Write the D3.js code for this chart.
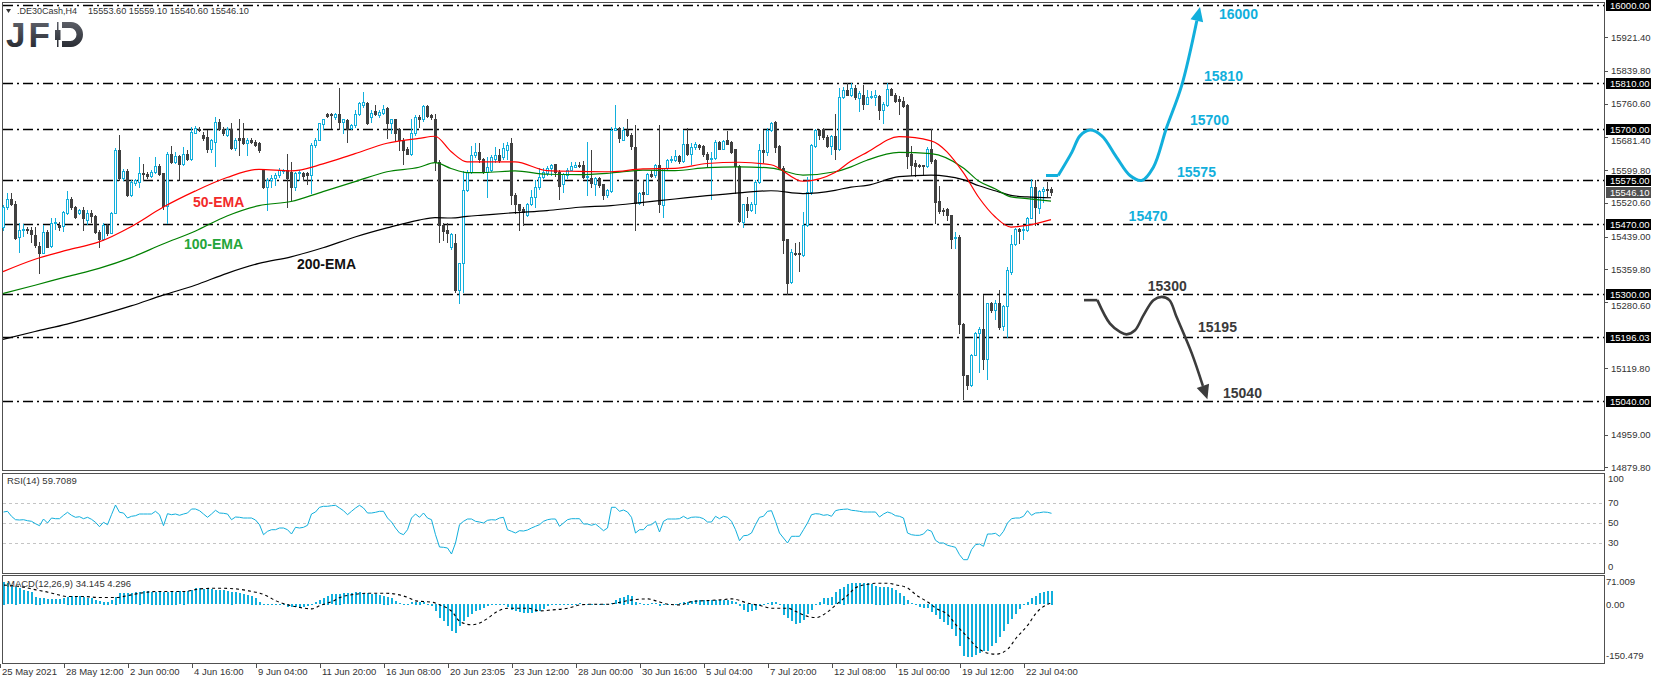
<!DOCTYPE html>
<html>
<head>
<meta charset="utf-8">
<script src="https://cdnjs.cloudflare.com/ajax/libs/d3/7.8.5/d3.min.js"></script>
<style>
  body { margin: 0; background: #fff; }
  svg { display: block; font-family: "Liberation Sans", Arial, sans-serif; }
</style>
</head>
<body>
<div id="chart"></div>
<script>
// DE30Cash H4, bar 0 = 25 May 2021 00:00
var opens = [
 15461,15510,15529,15519,15439,15455,15457,15456,15443,15416, // 0
 15400,15451,15416,15471,15467,15464,15497,15531,15511,15495,
 15503,15479,15497,15488,15451,15434,15467,15448,15497,15649,
 15580,15598,15539,15568,15572,15592,15590,15586,15595,15611,
 15594,15513,15640,15620,15634,15615,15640,15628,15691,15699,
 15685,15681,15650,15669,15716,15699,15685,15699,15653,15677, // 50
 15679,15666,15674,15669,15665,15600,15558,15576,15582,15588,
 15598,15600,15596,15560,15592,15592,15592,15588,15661,15674,
 15712,15736,15736,15728,15737,15717,15721,15701,15709,15737,
 15758,15763,15728,15742,15733,15739,15750,15715,15723,15699,
 15673,15650,15640,15689,15729,15723,15755,15733,15723,15620, // 100
 15467,15455,15413,15424,15309,15374,15552,15596,15636,15645,
 15628,15596,15600,15628,15636,15632,15649,15665,15539,15517,
 15507,15491,15519,15535,15558,15584,15593,15606,15614,15596,
 15566,15588,15601,15608,15612,15612,15584,15582,15567,15582,
 15566,15539,15550,15697,15703,15674,15698,15685,15655,15521, // 150
 15547,15543,15590,15588,15612,15515,15604,15624,15624,15634,
 15622,15664,15639,15655,15660,15658,15640,15628,15630,15668,
 15652,15673,15668,15650,15609,15475,15517,15503,15519,15572,
 15648,15644,15697,15717,15658,15606,15432,15329,15399,15399,
 15394,15466,15546,15659,15697,15699,15680,15659,15683,15651, // 200
 15777,15794,15783,15799,15775,15783,15761,15777,15777,15780,
 15745,15757,15796,15783,15772,15767,15757,15638,15618,15612,
 15612,15610,15652,15624,15525,15503,15505,15491,15436,15439,
 15228,15103,15080,15153,15206,15214,15142,15277,15260,15277,
 15222,15272,15352,15420,15457,15454,15454,15484,15559,15508, // 250
 15549,15554,15553.6
];
var highs = [
 15515,15544,15544,15525,15473,15469,15463,15461,15463,15426,
 15467,15455,15483,15483,15475,15501,15550,15535,15513,15506,
 15510,15503,15503,15492,15455,15471,15470,15499,15653,15685,
 15602,15602,15576,15578,15632,15615,15595,15600,15632,15615,
 15594,15645,15658,15644,15636,15657,15648,15705,15707,15705,
 15693,15697,15676,15729,15723,15705,15705,15715,15677,15725,
 15713,15677,15677,15673,15669,15602,15580,15588,15592,15604,
 15603,15640,15620,15596,15600,15596,15596,15665,15677,15715,
 15725,15738,15739,15739,15800,15725,15725,15712,15745,15766,
 15790,15766,15745,15758,15745,15758,15752,15725,15725,15701,
 15677,15657,15723,15733,15733,15758,15758,15736,15737,15624,
 15471,15471,15448,15445,15376,15598,15600,15658,15665,15665,
 15630,15632,15636,15655,15650,15665,15669,15677,15544,15518,
 15511,15521,15552,15576,15606,15604,15609,15616,15614,15600,
 15593,15606,15620,15620,15620,15622,15668,15648,15584,15584,
 15567,15555,15705,15757,15705,15705,15725,15689,15709,15547,
 15576,15592,15600,15616,15709,15606,15626,15634,15648,15636,
 15697,15701,15666,15668,15663,15660,15644,15644,15673,15671,
 15673,15695,15671,15652,15612,15519,15535,15523,15576,15664,
 15698,15701,15717,15719,15660,15609,15434,15410,15424,15426,
 15499,15584,15664,15699,15699,15701,15685,15686,15737,15799,
 15802,15812,15812,15806,15791,15806,15794,15791,15794,15782,
 15765,15810,15798,15786,15780,15777,15759,15659,15624,15614,
 15613,15656,15699,15626,15562,15509,15508,15492,15450,15442,
 15230,15104,15155,15209,15220,15298,15279,15281,15285,15309,
 15274,15365,15442,15460,15460,15468,15487,15578,15575,15551,
 15559,15570,15559.1
];
var lows = [
 15455,15507,15516,15432,15402,15440,15447,15426,15414,15350,
 15398,15413,15414,15458,15455,15453,15493,15507,15483,15493,
 15455,15469,15475,15447,15413,15430,15443,15447,15495,15577,
 15576,15537,15537,15565,15560,15576,15582,15584,15592,15588,
 15507,15472,15618,15618,15577,15612,15624,15624,15689,15695,
 15673,15645,15645,15610,15697,15686,15683,15650,15649,15636,
 15664,15636,15666,15658,15645,15556,15503,15560,15564,15584,
 15594,15511,15527,15553,15576,15576,15566,15545,15657,15673,
 15699,15729,15701,15725,15699,15691,15669,15699,15705,15733,
 15754,15712,15717,15733,15729,15737,15677,15689,15673,15649,
 15615,15639,15636,15685,15705,15720,15729,15725,15600,15426,
 15430,15426,15410,15305,15277,15305,15550,15594,15632,15620,
 15592,15535,15598,15620,15620,15628,15628,15519,15495,15455,
 15467,15489,15515,15511,15555,15580,15588,15588,15585,15531,
 15547,15580,15600,15607,15607,15582,15539,15559,15539,15559,
 15529,15535,15547,15697,15669,15673,15682,15652,15454,15519,
 15515,15542,15584,15584,15499,15487,15601,15620,15622,15618,
 15620,15636,15616,15652,15652,15634,15609,15531,15628,15650,
 15650,15663,15642,15545,15475,15462,15487,15501,15495,15569,
 15620,15636,15695,15644,15604,15398,15301,15327,15394,15355,
 15392,15465,15543,15656,15675,15675,15656,15640,15626,15648,
 15775,15782,15780,15773,15743,15749,15759,15775,15757,15723,
 15713,15756,15782,15765,15737,15753,15604,15588,15586,15608,
 15588,15608,15618,15473,15497,15492,15479,15411,15411,15206,
 15046,15069,15077,15151,15111,15117,15093,15256,15239,15216,
 15212,15196,15349,15418,15424,15432,15452,15483,15468,15497,
 15523,15538,15540.6
];
var closes = [
 15511,15529,15519,15436,15455,15457,15455,15445,15418,15400,
 15449,15414,15471,15475,15461,15498,15531,15511,15487,15503,
 15483,15497,15490,15451,15433,15467,15447,15497,15649,15580,
 15598,15539,15571,15576,15592,15590,15586,15596,15611,15590,
 15513,15640,15620,15634,15615,15640,15628,15693,15701,15697,
 15677,15650,15673,15716,15699,15689,15699,15653,15674,15673,
 15666,15674,15669,15661,15649,15558,15576,15582,15588,15600,
 15600,15582,15560,15594,15596,15586,15588,15661,15674,15713,
 15723,15731,15733,15737,15717,15723,15699,15709,15737,15762,
 15766,15713,15739,15736,15741,15747,15713,15723,15689,15673,
 15649,15640,15689,15729,15723,15755,15731,15728,15620,15467,
 15453,15447,15445,15309,15374,15552,15596,15636,15645,15628,
 15596,15607,15632,15636,15624,15653,15661,15539,15519,15503,
 15499,15519,15534,15559,15584,15596,15606,15612,15596,15561,
 15590,15601,15609,15612,15609,15584,15586,15569,15582,15563,
 15539,15551,15698,15703,15677,15698,15685,15658,15521,15545,
 15542,15590,15585,15612,15517,15604,15624,15626,15634,15622,
 15664,15639,15656,15664,15656,15639,15628,15630,15668,15652,
 15671,15664,15644,15609,15477,15517,15503,15519,15572,15648,
 15644,15698,15715,15656,15606,15430,15327,15402,15397,15397,
 15466,15546,15662,15697,15685,15681,15659,15683,15651,15777,
 15794,15783,15799,15777,15786,15759,15777,15780,15782,15745,
 15759,15796,15783,15767,15767,15756,15634,15612,15610,15610,
 15610,15651,15622,15523,15500,15500,15491,15434,15439,15226,
 15104,15080,15153,15206,15214,15142,15277,15260,15277,15220,
 15272,15357,15420,15457,15453,15458,15484,15559,15511,15549,
 15554,15551,15546.1
];

// moving averages, read at these bars
var emaBars = [0,8,16,24,32,40,48,56,64,72,80,88,96,104,108,112,116,120,128,136,144,152,160,168,176,184,192,200,208,212,216,224,232,240,244,248,252,256,262];
var ema50  = [15354,15384,15406,15426,15463,15510,15549,15582,15602,15598,15615,15640,15665,15677,15682,15645,15620,15620,15620,15599,15597,15596,15603,15604,15616,15619,15613,15573,15594,15622,15643,15681,15671,15595,15533,15487,15462,15466,15480];
var ema100 = [15301,15321,15342,15362,15388,15421,15452,15489,15514,15524,15548,15572,15596,15607,15618,15604,15594,15594,15598,15590,15589,15593,15600,15599,15606,15608,15605,15588,15596,15608,15624,15643,15640,15606,15573,15555,15535,15531,15525];
var ema200 = [15190,15209,15227,15248,15271,15297,15321,15350,15374,15390,15412,15438,15460,15479,15485,15484,15488,15491,15497,15502,15510,15514,15522,15530,15538,15545,15550,15543,15551,15559,15563,15584,15588,15577,15562,15550,15539,15535,15533];

var rsi = [
 61.0,61.7,56.7,53.3,53.0,53.3,52.3,51.7,49.3,47.3,
 54.0,50.0,55.0,54.3,54.3,57.7,60.7,57.7,55.7,56.3,
 54.3,55.7,53.7,50.7,46.3,50.7,48.3,58.3,68.0,60.7,
 60.0,55.0,56.7,57.3,59.0,59.0,59.0,59.0,61.7,58.3,
 47.3,59.3,58.3,59.0,57.7,59.0,60.0,64.0,64.0,62.3,
 59.0,55.7,59.0,62.7,60.0,59.7,59.0,53.3,56.0,55.7,
 55.0,55.0,55.0,53.0,48.3,38.3,41.7,43.3,43.3,45.0,
 45.0,43.3,39.0,45.7,45.0,45.7,47.7,59.0,61.0,65.7,
 66.7,66.7,67.3,67.7,65.0,62.3,58.3,61.7,65.0,67.7,
 65.0,60.0,60.0,60.7,61.7,61.7,55.0,51.0,45.0,40.0,
 38.3,43.3,55.0,59.0,55.7,60.0,55.0,53.3,38.3,26.0,
 25.7,25.0,19.0,30.0,48.3,51.7,54.0,54.0,51.7,51.0,
 50.0,52.7,53.3,53.0,55.0,55.7,43.3,41.7,40.0,42.3,
 42.0,43.0,45.0,46.7,48.3,51.7,53.3,54.0,54.0,46.7,
 50.0,53.3,54.3,54.3,54.3,49.0,49.0,47.7,49.0,45.7,
 42.3,45.0,65.7,65.7,61.7,63.0,61.0,55.7,40.0,43.3,
 43.3,47.7,48.3,51.7,41.0,51.7,54.0,54.0,54.0,54.3,
 56.7,54.3,55.7,56.0,55.7,54.3,51.0,51.0,56.7,54.3,
 56.7,55.7,51.7,43.3,32.3,37.3,37.7,40.0,48.3,55.7,
 56.7,61.7,62.3,51.7,40.0,35.0,30.0,36.7,36.7,36.7,
 43.3,50.0,58.3,59.3,59.0,57.7,58.3,56.7,62.3,63.3,
 63.7,64.0,62.7,62.3,61.7,61.0,61.0,61.0,61.0,56.0,
 59.0,61.0,59.7,57.3,56.7,55.0,40.0,38.3,37.7,37.7,
 39.0,43.3,41.7,32.7,30.0,30.0,27.7,26.7,25.7,18.3,
 13.3,13.3,23.3,28.3,29.0,26.7,39.0,39.0,39.7,36.7,
 41.7,50.0,54.3,55.0,55.0,56.7,62.3,57.7,60.0,60.3,
 61.0,60.7,59.7
];

var macdHist = [
 57.1,52.9,48.7,44.5,40.3,36.1,33.6,30.2,19.3,16.8,
 15.1,13.4,13.4,13.4,13.4,15.1,19.3,21.8,21.8,21.8,
 19.3,16.8,15.1,10.9,8.4,6.7,6.7,10.9,19.3,27.7,
 27.7,27.7,27.7,30.2,31.9,33.6,33.6,31.9,31.9,31.9,
 31.9,31.9,31.9,31.9,33.6,31.9,33.6,36.1,40.3,40.3,
 38.6,38.6,38.6,36.1,36.1,36.1,33.6,31.9,30.2,27.7,
 25.2,23.5,21.8,16.8,6.7,0,1.7,0.8,0.8,1.7,
 -1.7,-8.4,-8.4,-8.4,-10.1,-8.4,-5.9,0,5.0,10.9,
 16.8,21.8,25.2,26.8,26.8,27.7,27.7,27.7,30.2,30.2,
 27.7,27.7,25.2,25.2,23.5,21.8,19.3,15.1,8.4,2.5,
 0,1.0,5.0,6.7,6.7,5.0,0,-5.9,-18.5,-35.2,
 -43.6,-56.2,-68.8,-73.0,-56.2,-43.6,-33.6,-25.2,-18.5,-14.3,
 -10.1,-5.9,-1.7,1.0,1.0,-1.7,-8.4,-14.3,-16.8,-20.1,
 -21.5,-22.7,-22.7,-20.1,-16.8,-11.7,-5.9,-1.7,0.3,0.8,
 0.8,0.8,0.8,1.7,3.4,0.8,0.3,-0.3,-0.3,0.3,
 -1.7,-1.7,2.5,10.9,15.1,19.3,23.5,21.8,6.7,2.5,
 0.3,0.3,2.5,2.5,-4.2,-0.3,0.3,0.3,0.8,2.5,
 5.0,6.7,8.4,10.1,11.7,11.7,11.7,11.7,11.7,11.7,
 11.7,11.7,8.4,5.0,-5.9,-14.3,-20.1,-18.5,-14.3,-5.9,
 -1.7,2.5,6.7,5.0,-1.7,-26.8,-35.2,-43.6,-50.3,-47.8,
 -39.4,-25.2,-14.3,-1.7,6.7,15.1,16.8,19.3,30.2,38.6,
 44.5,50.3,52.9,52.9,52.9,52.9,52.9,50.3,47.0,44.5,
 44.5,44.5,40.3,36.1,27.7,21.8,10.9,2.5,-1.7,-8.4,
 -10.1,-10.1,-20.1,-28.5,-36.9,-45.3,-52.0,-62.1,-81.4,-106.6,
 -131.7,-134.2,-134.2,-127.5,-123.3,-117.5,-119.1,-106.6,-98.2,-83.9,
 -67.1,-50.3,-36.9,-25.2,-11.7,0.3,6.7,15.1,21.8,27.7,
 30.2,32.0,34.1
];
var signalBars = [0,4,8,11,13,16,20,24,28,31,34,38,41,45,49,53,58,62,64,66,68,71,74,77,79,82,84,88,91,95,98,101,103,107,109,112,114,117,118,121,123,126,129,131,134,137,141,144,147,151,154,157,161,163,166,169,172,176,179,182,186,189,192,196,198,201,203,206,208,211,213,216,218,221,223,226,228,231,233,236,238,241,243,246,248,251,253,256,258,262];
var signalVals = [48,44.5,36.1,30.2,25.2,19.3,19.3,16.8,16.8,21.8,27.7,31.9,31.9,31.9,38.6,40.3,38.6,31.9,27.7,19.3,8.4,-1.7,-8.4,-11.7,-3.4,6.7,16.8,25.2,27.7,27.7,25.2,16.8,8.4,5.0,-1.7,-18.5,-43.6,-52.0,-50.3,-35.2,-20.1,-10.1,-10.1,-10.1,-16.8,-14.3,-10.1,-1.7,0,0,5.0,10.9,13.4,8.4,0,-1.7,6.7,9.2,10.9,13.4,2.5,-3.4,-10.1,-10.1,-18.5,-31.0,-33.6,-18.5,-1.7,23.5,42.0,50.3,52.9,52.9,48.7,40.3,23.5,5.0,-10.1,-26.8,-52.0,-83.9,-106.6,-123.3,-125.8,-112.4,-85.6,-52,-22.7,4.3];

var dateBars = [0,16,32,48,64,80,96,112,128,144,160,176,192,208,224,240,256];
var dateLabels = ["25 May 2021","28 May 12:00","2 Jun 00:00","4 Jun 16:00","9 Jun 04:00","11 Jun 20:00","16 Jun 08:00","20 Jun 23:05","23 Jun 12:00","28 Jun 00:00","30 Jun 16:00","5 Jul 04:00","7 Jul 20:00","12 Jul 08:00","15 Jul 00:00","19 Jul 12:00","22 Jul 04:00"];
var priceTicks = [15921.4,15839.8,15760.6,15681.4,15599.8,15520.6,15439.0,15359.8,15280.6,15119.8,14959.0,14879.8];
var levels = [16000,15810,15700,15575,15470,15300,15196.03,15040];
var lastPrice = 15546.10;
var rsiTicks = [100,70,50,30,0];
var rsiLevels = [70,50,30];
var macdTicks = [71.009,0,-150.479];

var cyan = "#12afdc";
var dark = "#404040";
var right = 1604;

var svg = d3.select("#chart")
  .append("svg")
    .attr("width", 1655)
    .attr("height", 684);

var x = d3.scaleLinear().domain([0, 400]).range([3, 1603]);
var y = d3.scaleLinear().domain([14873.5, 16006.06]).range([470, 2.5]);
var yRsi = d3.scaleLinear().domain([0, 100]).range([573, 473]);
var yMacd = d3.scaleLinear().domain([-150.479, 71.009]).range([664, 576]);

var bars = closes.map(function(c, i) {
  return {i: i, o: opens[i], h: highs[i], l: lows[i], c: c};
});

// logo gradient
var defs = svg.append("defs");
var grad = defs.append("linearGradient").attr("id", "logoGrad")
  .attr("gradientUnits", "userSpaceOnUse")
  .attr("x1", 0).attr("y1", 22).attr("x2", 0).attr("y2", 47);
grad.append("stop").attr("offset", "0%").attr("stop-color", "#5b5e66");
grad.append("stop").attr("offset", "100%").attr("stop-color", "#2a2d34");

// panel frames
var panels = [[2.5, 470.5], [473.5, 573.5], [575.5, 663.5]];
svg.selectAll(".frame")
  .data(panels).enter()
  .append("rect")
    .attr("x", 2.5)
    .attr("y", function(d) { return d[0]; })
    .attr("width", right - 2)
    .attr("height", function(d) { return d[1] - d[0]; })
    .attr("fill", "none")
    .attr("stroke", "#505050");

// horizontal levels
svg.selectAll(".level")
  .data(levels).enter()
  .append("line")
    .attr("x1", 3).attr("x2", right)
    .attr("y1", function(d) { return Math.round(y(d)) + 0.5; })
    .attr("y2", function(d) { return Math.round(y(d)) + 0.5; })
    .attr("stroke", "#000")
    .attr("stroke-width", 1.3)
    .attr("stroke-dasharray", "10,4,2,4");

// candles
var candle = svg.append("g").selectAll(".candle")
  .data(bars).enter()
  .append("g");

candle.append("line")
  .attr("x1", function(d) { return x(d.i) + 0.5; })
  .attr("x2", function(d) { return x(d.i) + 0.5; })
  .attr("y1", function(d) { return Math.round(y(d.h)); })
  .attr("y2", function(d) { return Math.round(y(d.l)) + 1; })
  .attr("stroke", function(d) { return d.c >= d.o ? cyan : dark; });

candle.append("rect")
  .attr("x", function(d) { return d.c >= d.o ? x(d.i) - 0.5 : x(d.i) - 1; })
  .attr("y", function(d) {
    var t = Math.round(y(Math.max(d.o, d.c)));
    return d.c >= d.o ? t + 0.5 : t;
  })
  .attr("width", function(d) { return d.c >= d.o ? 2 : 3; })
  .attr("height", function(d) {
    var t = Math.round(y(Math.max(d.o, d.c)));
    var b = Math.round(y(Math.min(d.o, d.c)));
    return d.c >= d.o ? Math.max(b - t, 1) : Math.max(b - t + 1, 1);
  })
  .attr("fill", function(d) { return d.c >= d.o ? "#fff" : dark; })
  .attr("stroke", function(d) { return d.c >= d.o ? cyan : "none"; });

// moving averages
var emaLine = d3.line()
  .x(function(d) { return x(d[0]); })
  .y(function(d) { return y(d[1]); })
  .curve(d3.curveMonotoneX);

var emas = [[ema200, "#000"], [ema100, "#008000"], [ema50, "#ff0000"]];
emas.forEach(function(e) {
  svg.append("path")
    .attr("d", emaLine(emaBars.map(function(b, k) { return [b, e[0][k]]; })))
    .attr("fill", "none")
    .attr("stroke", e[1])
    .attr("stroke-width", 1.2);
});

var emaText = [["50-EMA", 193, 201.7, "#f22a2a"], ["100-EMA", 184, 244, "#24a53a"], ["200-EMA", 297, 264, "#111"]];
svg.selectAll(".emalabel")
  .data(emaText).enter()
  .append("text")
    .attr("x", function(d) { return d[1]; })
    .attr("y", function(d) { return d[2]; })
    .attr("dy", "0.35em")
    .attr("fill", function(d) { return d[3]; })
    .style("font-size", "14px")
    .style("font-weight", "bold")
    .text(function(d) { return d[0]; });

// forecast paths
function drawWave(flat, wave, color, width) {
  svg.append("path")
    .attr("d", d3.line()(flat.map(function(p) { return [x(p[0]), y(p[1])]; })))
    .attr("fill", "none").attr("stroke", color).attr("stroke-width", width);
  var pts = wave.map(function(p) { return [x(p[0]), y(p[1])]; });
  var tip = pts[pts.length - 1], prev = pts[pts.length - 2];
  var dx = tip[0] - prev[0], dy = tip[1] - prev[1];
  var len = Math.sqrt(dx * dx + dy * dy);
  var ux = dx / len, uy = dy / len;
  var base = [tip[0] - 14 * ux, tip[1] - 14 * uy];
  pts[pts.length - 1] = base;
  svg.append("path")
    .attr("d", d3.line().curve(d3.curveCatmullRom.alpha(0.5))(pts))
    .attr("fill", "none").attr("stroke", color).attr("stroke-width", width)
    .attr("stroke-linejoin", "round");
  svg.append("path")
    .attr("d", "M" + tip[0] + "," + tip[1] +
      "L" + (base[0] - 6.5 * uy) + "," + (base[1] + 6.5 * ux) +
      "L" + (base[0] + 6.5 * uy) + "," + (base[1] - 6.5 * ux) + "Z")
    .attr("fill", color);
}

drawWave([[260.75, 15587], [263.8, 15587]],
  [[263.8,15587],[267.2,15643],[269.25,15683],[271.75,15697],[274.7,15683],[278.4,15631],[281.75,15587],[284.7,15575],[287.6,15607],[290.9,15703],[294.7,15806],[299.25,15995]],
  cyan, 3);
drawWave([[270.25, 15285], [273.6, 15285]],
  [[273.6,15285],[276.75,15228],[279.25,15208],[280.9,15202],[283,15212],[285.1,15248],[287.6,15285],[289.7,15293],[291.6,15285],[293.4,15244],[297.2,15156],[301.1,15045]],
  "#3c3c3c", 2.6);

var waveLabels = [
  ["16000", 304, 15978, cyan], ["15810", 300.25, 15828, cyan], ["15700", 296.75, 15720, cyan],
  ["15575", 293.5, 15596, cyan], ["15470", 281.4, 15488, cyan],
  ["15300", 286.2, 15318, "#3a3a3a"], ["15195", 298.75, 15220, "#3a3a3a"], ["15040", 305, 15060, "#3a3a3a"]
];
svg.selectAll(".wavelabel")
  .data(waveLabels).enter()
  .append("text")
    .attr("x", function(d) { return x(d[1]); })
    .attr("y", function(d) { return y(d[2]); })
    .attr("dy", "0.35em")
    .attr("fill", function(d) { return d[3]; })
    .style("font-size", "14px")
    .style("font-weight", "bold")
    .text(function(d) { return d[0]; });

// price axis; a tick label sitting under a level box is pushed just below it
function tickLabelY(v) {
  var ty = y(v);
  levels.forEach(function(l) {
    var by = Math.round(y(l));
    if (Math.abs(ty - by) < 11 && ty > by) ty = Math.max(ty, by + 12);
  });
  return ty;
}
svg.selectAll(".ptick")
  .data(priceTicks).enter()
  .append("line")
    .attr("x1", right).attr("x2", right + 4)
    .attr("y1", function(d) { return Math.round(y(d)) + 0.5; })
    .attr("y2", function(d) { return Math.round(y(d)) + 0.5; })
    .attr("stroke", "#505050");
svg.selectAll(".plabel")
  .data(priceTicks).enter()
  .append("text")
    .attr("x", 1611)
    .attr("y", function(d) { return tickLabelY(d); })
    .attr("dy", "0.35em")
    .attr("fill", "#333")
    .style("font-size", "9.5px")
    .text(function(d) { return d.toFixed(2); });

var boxes = svg.selectAll(".lvlbox")
  .data(levels.map(function(v) { return [v, "#000"]; }).concat([[lastPrice, "#505050"]]))
  .enter().append("g");
boxes.append("rect")
  .attr("x", 1606)
  .attr("y", function(d) { return Math.round(y(d[0])) - 5; })
  .attr("width", 45)
  .attr("height", 11)
  .attr("fill", function(d) { return d[1]; });
boxes.append("text")
  .attr("x", 1610)
  .attr("y", function(d) { return Math.round(y(d[0])) + 0.5; })
  .attr("dy", "0.35em")
  .attr("fill", "#fff")
  .style("font-size", "9.5px")
  .text(function(d) { return d[0].toFixed(2); });

// RSI panel
svg.selectAll(".rsilevel")
  .data(rsiLevels).enter()
  .append("line")
    .attr("x1", 3).attr("x2", right)
    .attr("y1", function(d) { return yRsi(d) + 0.5; })
    .attr("y2", function(d) { return yRsi(d) + 0.5; })
    .attr("stroke", "#c4c4c4")
    .attr("stroke-dasharray", "3,3");

svg.append("path")
  .attr("d", d3.line()
    .x(function(d, i) { return x(i) + 0.5; })
    .y(function(d) { return yRsi(d); })(rsi))
  .attr("fill", "none")
  .attr("stroke", cyan)
  .attr("stroke-width", 1);

svg.selectAll(".rsitick")
  .data(rsiTicks).enter()
  .append("text")
    .attr("x", 1608)
    .attr("y", function(d) { return Math.min(Math.max(yRsi(d), 479), 567); })
    .attr("dy", "0.35em")
    .attr("fill", "#333")
    .style("font-size", "9.5px")
    .text(function(d) { return d; });

svg.append("text")
  .attr("x", 7).attr("y", 481).attr("dy", "0.35em")
  .attr("fill", "#333").style("font-size", "9.5px")
  .text("RSI(14) 59.7089");

// MACD panel
svg.selectAll(".hist")
  .data(macdHist).enter()
  .append("rect")
    .attr("x", function(d, i) { return x(i); })
    .attr("y", function(d) { return Math.round(Math.min(yMacd(d), yMacd(0))); })
    .attr("width", 2)
    .attr("height", function(d) { return Math.max(Math.round(Math.abs(yMacd(d) - yMacd(0))), 1); })
    .attr("fill", cyan);

svg.append("path")
  .attr("d", d3.line()
    .x(function(d) { return x(d[0]) + 1; })
    .y(function(d) { return yMacd(d[1]); })
    .curve(d3.curveMonotoneX)(signalBars.map(function(b, k) { return [b, signalVals[k]]; })))
  .attr("fill", "none")
  .attr("stroke", "#000")
  .attr("stroke-width", 1.1)
  .attr("stroke-dasharray", "3,3");

svg.selectAll(".macdtick")
  .data(macdTicks).enter()
  .append("text")
    .attr("x", 1606)
    .attr("y", function(d) { return Math.min(Math.max(yMacd(d), 582), 656); })
    .attr("dy", "0.35em")
    .attr("fill", "#333")
    .style("font-size", "9.5px")
    .text(function(d) { return d === 0 ? "0.00" : d.toString(); });

svg.append("text")
  .attr("x", 7).attr("y", 584).attr("dy", "0.35em")
  .attr("fill", "#333").style("font-size", "9.5px")
  .text("MACD(12,26,9) 34.145 4.296");

// time axis
svg.selectAll(".dtick")
  .data(dateBars).enter()
  .append("line")
    .attr("x1", function(d) { return x(d) - 2.5; })
    .attr("x2", function(d) { return x(d) - 2.5; })
    .attr("y1", 664).attr("y2", 668)
    .attr("stroke", "#505050");
svg.selectAll(".dlabel")
  .data(dateBars).enter()
  .append("text")
    .attr("x", function(d) { return x(d) - 1; })
    .attr("y", 672)
    .attr("dy", "0.35em")
    .attr("fill", "#333")
    .style("font-size", "9.5px")
    .text(function(d, i) { return dateLabels[i]; });

// header and logo
svg.append("path").attr("d", "M6,9L11,9L8.5,13Z").attr("fill", "#333");
svg.append("text")
  .attr("x", 17).attr("y", 11).attr("dy", "0.35em")
  .attr("fill", "#333").style("font-size", "9px")
  .text(".DE30Cash,H4");
svg.append("text")
  .attr("x", 88).attr("y", 11).attr("dy", "0.35em")
  .attr("fill", "#333").style("font-size", "9.2px")
  .text("15553.60 15559.10 15540.60 15546.10");

var logo = svg.append("g").attr("fill", "url(#logoGrad)");
logo.append("text")
  .attr("x", 6).attr("y", 47)
  .style("font-size", "35px")
  .style("font-weight", "bold")
  .style("letter-spacing", "3px")
  .text("JF");
// the D: a candle for its stem and a thick bowl
logo.append("rect").attr("x", 57).attr("y", 22).attr("width", 1.5).attr("height", 25);
logo.append("rect").attr("x", 55).attr("y", 30).attr("width", 5.5).attr("height", 10);
logo.append("path")
  .attr("d", "M62,22H71A12,12.5 0 0 1 71,47H62V41H70.5A6,6.5 0 0 0 70.5,28H62Z");
</script>
</body>
</html>
